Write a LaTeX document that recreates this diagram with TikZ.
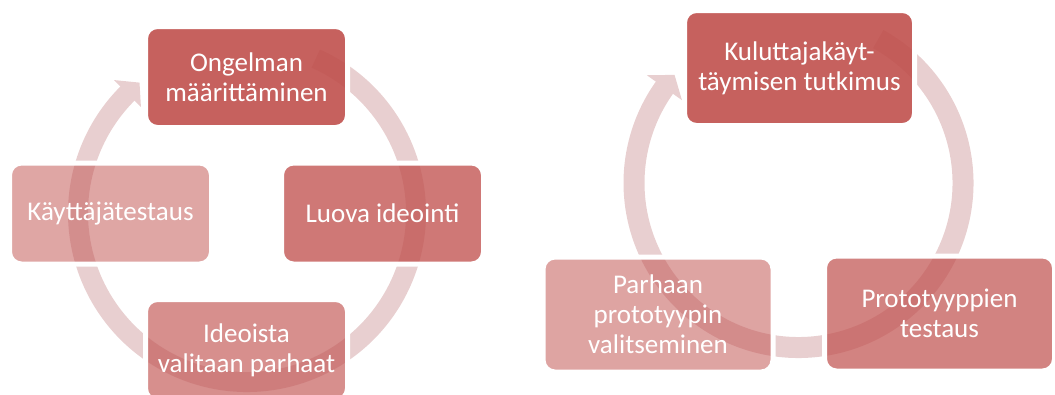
\documentclass[tikz,border=0pt]{standalone}
\usepackage{fontspec}
\setmainfont{Carlito}
\usetikzlibrary{calc}
\definecolor{saaccent}{RGB}{192,80,77}
\definecolor{saring}{RGB}{232,207,208}

\begin{document}
\begin{tikzpicture}[x=1pt,y=-1pt,
  stepbox/.style={rounded corners=12pt, draw=white, line width=5pt,
    fill=saaccent, text=white, text opacity=1, align=center,
    font=\fontsize{27}{30}\selectfont, inner sep=0pt},
  leftbox/.style={stepbox, minimum width=202pt, minimum height=101pt},
  rightbox/.style={stepbox, minimum width=230pt, minimum height=115pt},
  ring/.style={saring, line width=20pt}]
\path[use as bounding box] (0,0) rectangle (1055,394);
\clip (0,0) rectangle (1055,394);
% --- Left cycle: four steps ---
\coordinate (lc) at (247,213);
% Ring arrow behind the boxes
\draw[ring] (lc) ++(-66:169) arc[start angle=-66, end angle=226, radius=169];
\fill[saring] ($(lc)+(225:188)$) -- ($(lc)+(230.5:169)$)
  -- ($(lc)+(225:150)$) -- cycle;
% Boxes
\node[leftbox, fill opacity=0.9] (ongelma) at (246.5,77) {Ongelman\\määrittäminen};
\node[leftbox, fill opacity=0.77] (ideointi) at (382.5,213.5) {Luova ideointi};
\node[leftbox, fill opacity=0.64] (valinta) at (246.5,350) {Ideoista\\valitaan parhaat};
\node[leftbox, fill opacity=0.51] (kayttaja) at (110.5,213.5) {Käyttäjätestaus};
% --- Right cycle: three steps ---
\coordinate (rc) at (798.5,183);
% Ring arrow behind the boxes
\draw[ring, line width=21pt] (rc) ++(-61:164.5) arc[start angle=-61, end angle=216, radius=164.5];
\fill[saring] ($(rc)+(215.4:186)$) -- ($(rc)+(221.1:164.5)$)
  -- ($(rc)+(215.4:143)$) -- cycle;
% Boxes
\node[rightbox, fill opacity=0.9] (tutkimus) at (799.5,68) {Kuluttajakäyt-\\täymisen tutkimus};
\node[rightbox, fill opacity=0.71] (prototesti) at (939.5,313.5) {Prototyyppien\\testaus};
\node[rightbox, fill opacity=0.52] (paras) at (658,314.5) {Parhaan\\prototyypin\\valitseminen};
\end{tikzpicture}
\end{document}
